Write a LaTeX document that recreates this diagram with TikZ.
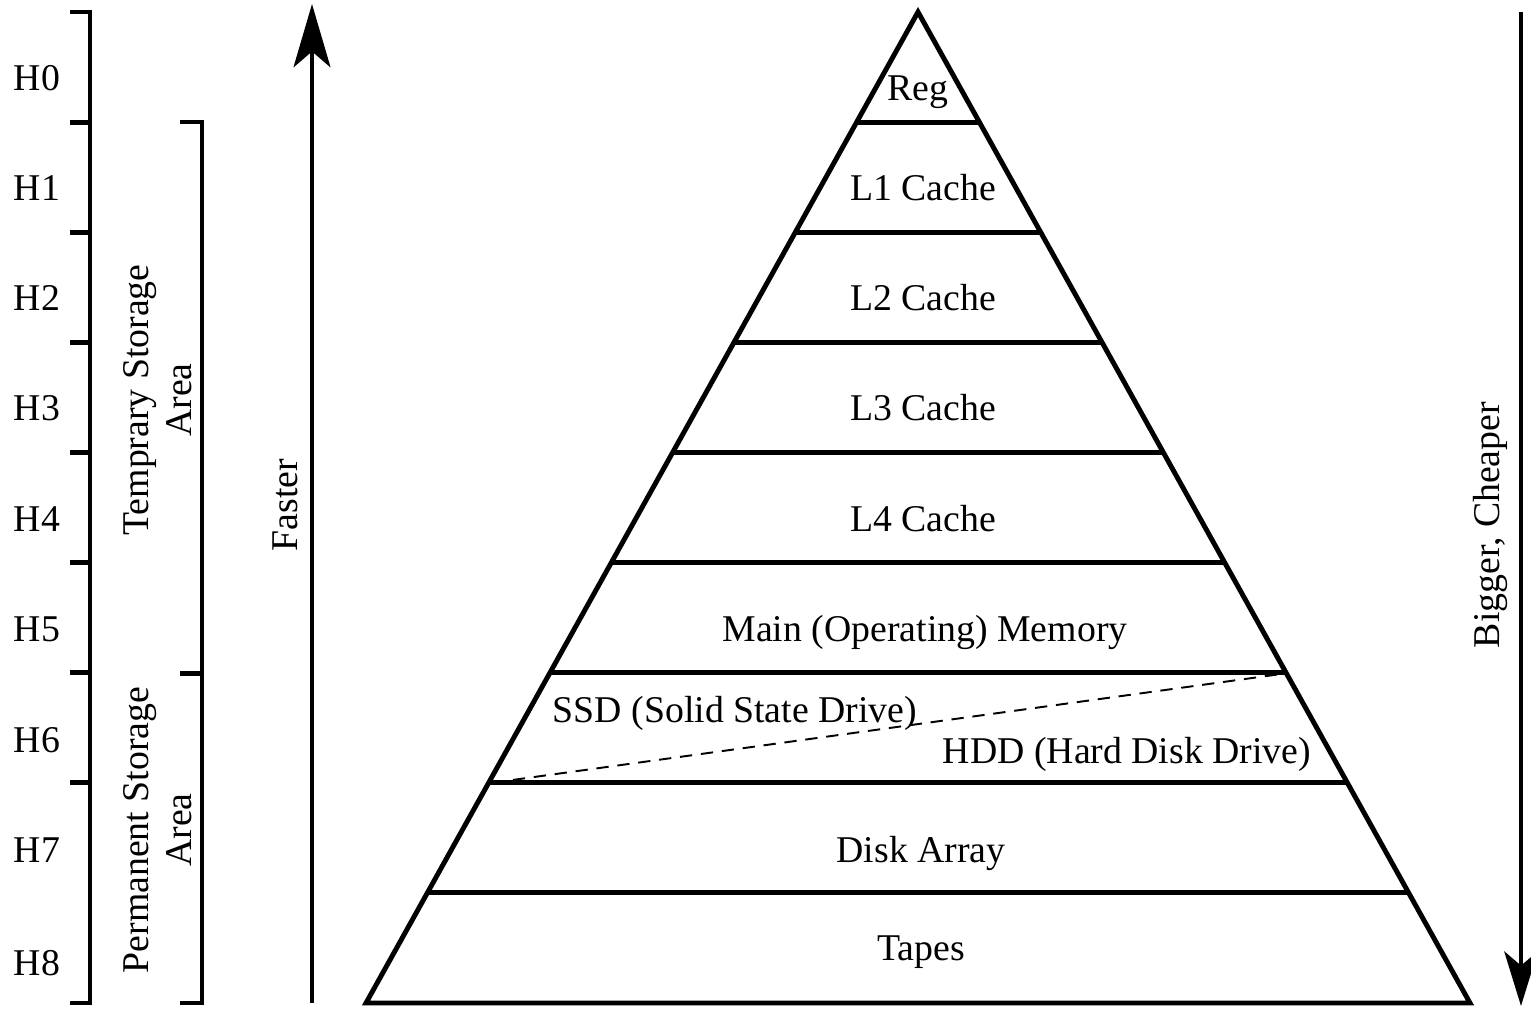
\documentclass[tikz,border=0pt]{standalone}
\usepackage{fontspec}
\setmainfont{Liberation Serif}
\usetikzlibrary{arrows.meta}
\begin{document}
\begin{tikzpicture}[x=0.02cm,y=-0.02cm,
  thick line/.style={line width=2.8pt},
  lbl/.style={font=\fontsize{21.5}{25}\selectfont, inner sep=0pt, anchor=base},
  rlbl/.style={font=\fontsize{21.5}{24.5}\selectfont, inner sep=0pt, rotate=90, align=center},
  bigarrow/.style={line width=2.4pt, -{Stealth[length=36pt,width=21pt,inset=9pt]}}
]
\useasboundingbox (0,0) rectangle (1531,1008);
% pyramid
\coordinate (apex) at (918,12);
\coordinate (bl) at (366,1003);
\coordinate (br) at (1470,1003);
\draw[thick line, line join=miter] (apex) -- (bl) -- (br) -- cycle;
\foreach \k in {1,...,8}{
  \pgfmathsetmacro{\yy}{12+\k*110.1}
  \pgfmathsetmacro{\dx}{(\yy-12)*0.557}
  \draw[thick line] ({918-\dx},\yy) -- ({918+\dx},\yy);
}
% dashed split
\coordinate (dsA) at (492,782.8);
\coordinate (dsB) at (1284,673.6);
\draw[line width=1.1pt, dash pattern=on 7pt off 5pt] (dsA) -- (dsB);
% pyramid labels
\node[lbl] (reg) at (918,100) {Reg};
\node[lbl] (l1) at (923,200) {L1 Cache};
\node[lbl] (l2) at (923,310) {L2 Cache};
\node[lbl] (l3) at (923,420) {L3 Cache};
\node[lbl] (l4) at (923,531) {L4 Cache};
\node[lbl] (mm) at (925,641) {Main (Operating) Memory};
\node[lbl] (ssd) at (735,722) {SSD (Solid State Drive)};
\node[lbl] (hdd) at (1127,763) {HDD (Hard Disk Drive)};
\node[lbl] (da) at (921,862) {Disk Array};
\node[lbl] (tp) at (921,960) {Tapes};
% left H bracket
\draw[thick line] (70,12) -- (90,12) -- (90,1003) -- (70,1003);
\foreach \k in {1,...,7}{
  \pgfmathsetmacro{\yy}{12+\k*110.1}
  \draw[thick line] (70,\yy) -- (90,\yy);
}
\foreach \k/\yb in {0/90,1/200,2/310,3/420,4/531,5/641,6/752,7/862,8/975}{
  \node[lbl] (h\k) at (37,\yb) {H\k};
}
% storage area brackets
\draw[thick line] (180,122) -- (202,122) -- (202,1003) -- (180,1003);
\draw[thick line] (180,673.6) -- (202,673.6);
\node[rlbl] (temp) at (158,400) {Temprary Storage\\Area};
\node[rlbl] (perm) at (158,830) {Permanent Storage\\Area};
% faster arrow
\coordinate (fa0) at (312,1003);
\coordinate (fa1) at (312,4);
\draw[bigarrow] (fa0) -- (fa1);
\node[rlbl] (faster) at (285,505) {Faster};
% bigger cheaper arrow
\coordinate (bc0) at (1521,12);
\coordinate (bc1) at (1521,1006);
\draw[line width=2.8pt, -{Stealth[length=31pt,width=19pt,inset=8pt]}] (bc0) -- (bc1);
\node[rlbl] (bigger) at (1490,525) {Bigger, Cheaper};
\end{tikzpicture}
\end{document}
